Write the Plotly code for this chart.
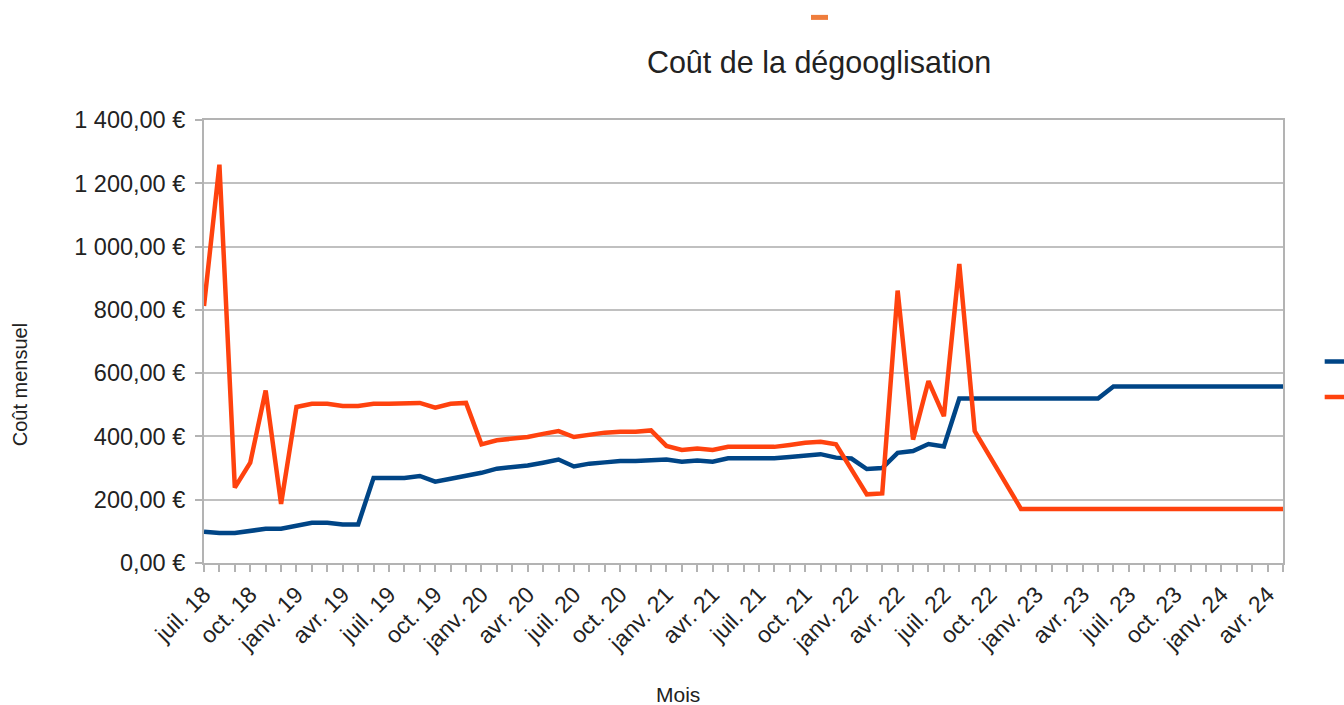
import plotly.graph_objects as go

# ---- data ----
month_names = ["juil.", "août", "sept.", "oct.", "nov.", "déc.",
               "janv.", "févr.", "mars", "avr.", "mai", "juin"]
start_year = 18
n_months = 71
months = []
for k in range(n_months):
    m = k % 12
    yr = start_year + (k + 6) // 12
    months.append(f"{month_names[m]} {yr}")

series_blue_name = "Coût des services libres"
series_blue = [99, 95, 95, 103, 108, 108, 117, 127, 127, 122,
               122, 269, 269, 269, 275, 257, 266, 275, 285, 298,
               303, 308, 317, 327, 305, 314, 318, 322, 322, 324,
               327, 320, 324, 320, 331, 331, 331, 331, 335, 340,
               344, 333, 330, 297, 300, 348, 354, 376, 368, 520,
               520, 520, 520, 520, 520, 520, 520, 520, 520, 558,
               558, 558, 558, 558, 558, 558, 558, 558, 558, 558,
               558]

series_orange_name = "Coût des services Google"
series_orange = [812, 1259, 238, 317, 545, 187, 493, 503, 503, 496,
                 496, 503, 503, 503, 506, 491, 503, 506, 375, 388,
                 394, 398, 408, 417, 398, 406, 412, 415, 415, 419,
                 370, 357, 362, 357, 367, 367, 367, 367, 373, 380,
                 383, 375, 296, 217, 220, 861, 390, 575, 464, 945,
                 417, 334, 252, 171, 171, 171, 171, 171, 171, 171,
                 171, 171, 171, 171, 171, 171, 171, 171, 171, 171,
                 171]

y_tickvals = [0, 200, 400, 600, 800, 1000, 1200, 1400]
y_ticktext = ["0,00 €", "200,00 €", "400,00 €", "600,00 €", "800,00 €",
              "1 000,00 €", "1 200,00 €", "1 400,00 €"]

label_months = {"juil.", "oct.", "janv.", "avr."}
x_ticktext = [m if m.split(" ")[0] in label_months else "" for m in months]

title_text = "Coût de la dégooglisation"
y_title = "Coût mensuel"
x_title = "Mois"

BLUE = "#004586"
ORANGE = "#ff420e"
FONT = "Liberation Sans, Arial, sans-serif"
TXT = "#222222"

fig = go.Figure()
fig.add_trace(go.Scatter(x=months, y=series_blue, mode="lines", name=series_blue_name,
                         line=dict(color=BLUE, width=4.5), legend="legend"))
fig.add_trace(go.Scatter(x=months, y=series_orange, mode="lines", name=series_orange_name,
                         line=dict(color=ORANGE, width=4.5), legend="legend2"))

fig.update_layout(
    width=1344, height=705,
    paper_bgcolor="white", plot_bgcolor="white",
    margin=dict(l=204, r=61, t=120, b=142, autoexpand=False),
    font=dict(family=FONT, color=TXT),
    title=dict(text=title_text, x=819/1344, xanchor="center", xref="container",
               y=1 - 62/705, yanchor="middle", yref="container",
               font=dict(size=30.5, color=TXT, family=FONT)),
    showlegend=True,
    legend=dict(x=1.034, xanchor="left", y=0.455, yanchor="middle",
                font=dict(size=20), bgcolor="rgba(0,0,0,0)"),
    legend2=dict(x=1.034, xanchor="left", y=0.375, yanchor="middle",
                 font=dict(size=20), bgcolor="rgba(0,0,0,0)"),
    xaxis=dict(type="category", range=[0, n_months - 1],
               tickmode="array", tickvals=months, ticktext=x_ticktext,
               tickangle=-45, tickfont=dict(size=23, color=TXT),
               ticks="outside", ticklen=7, tickcolor="#b3b3b3", tickwidth=1.5,
               showline=True, linecolor="#b3b3b3", linewidth=2, mirror=True,
               showgrid=False, zeroline=False),
    yaxis=dict(range=[0, 1400], tickmode="array", tickvals=y_tickvals, ticktext=y_ticktext,
               tickfont=dict(size=23.5, color=TXT), ticklabelstandoff=5,
               ticks="outside", ticklen=7, tickcolor="#b3b3b3", tickwidth=1.5,
               showline=True, linecolor="#b3b3b3", linewidth=2, mirror=True,
               showgrid=True, gridcolor="#c0c0c0", gridwidth=2, zeroline=False),
    annotations=[
        dict(text=y_title, xref="paper", yref="paper", x=(20 - 204) / 1079, y=(562.5 - 385) / 442.5,
             xanchor="center", yanchor="middle", textangle=-90, showarrow=False,
             font=dict(size=20, color=TXT, family=FONT)),
        dict(text=x_title, xref="paper", yref="paper", x=(678 - 204) / 1079, y=(562.5 - 694) / 442.5,
             xanchor="center", yanchor="middle", showarrow=False,
             font=dict(size=21, color=TXT, family=FONT)),
    ],
    shapes=[dict(type="rect", xref="paper", yref="paper",
                 x0=(811 - 204) / 1079, x1=(828 - 204) / 1079,
                 y0=(562.5 - 20) / 442.5, y1=(562.5 - 15) / 442.5,
                 fillcolor="#ef7d3c", line=dict(width=0))],
)

fig.write_html("out.html", config={"displayModeBar": False},
               post_script="document.body.style.margin='0';document.body.style.overflow='hidden';")
